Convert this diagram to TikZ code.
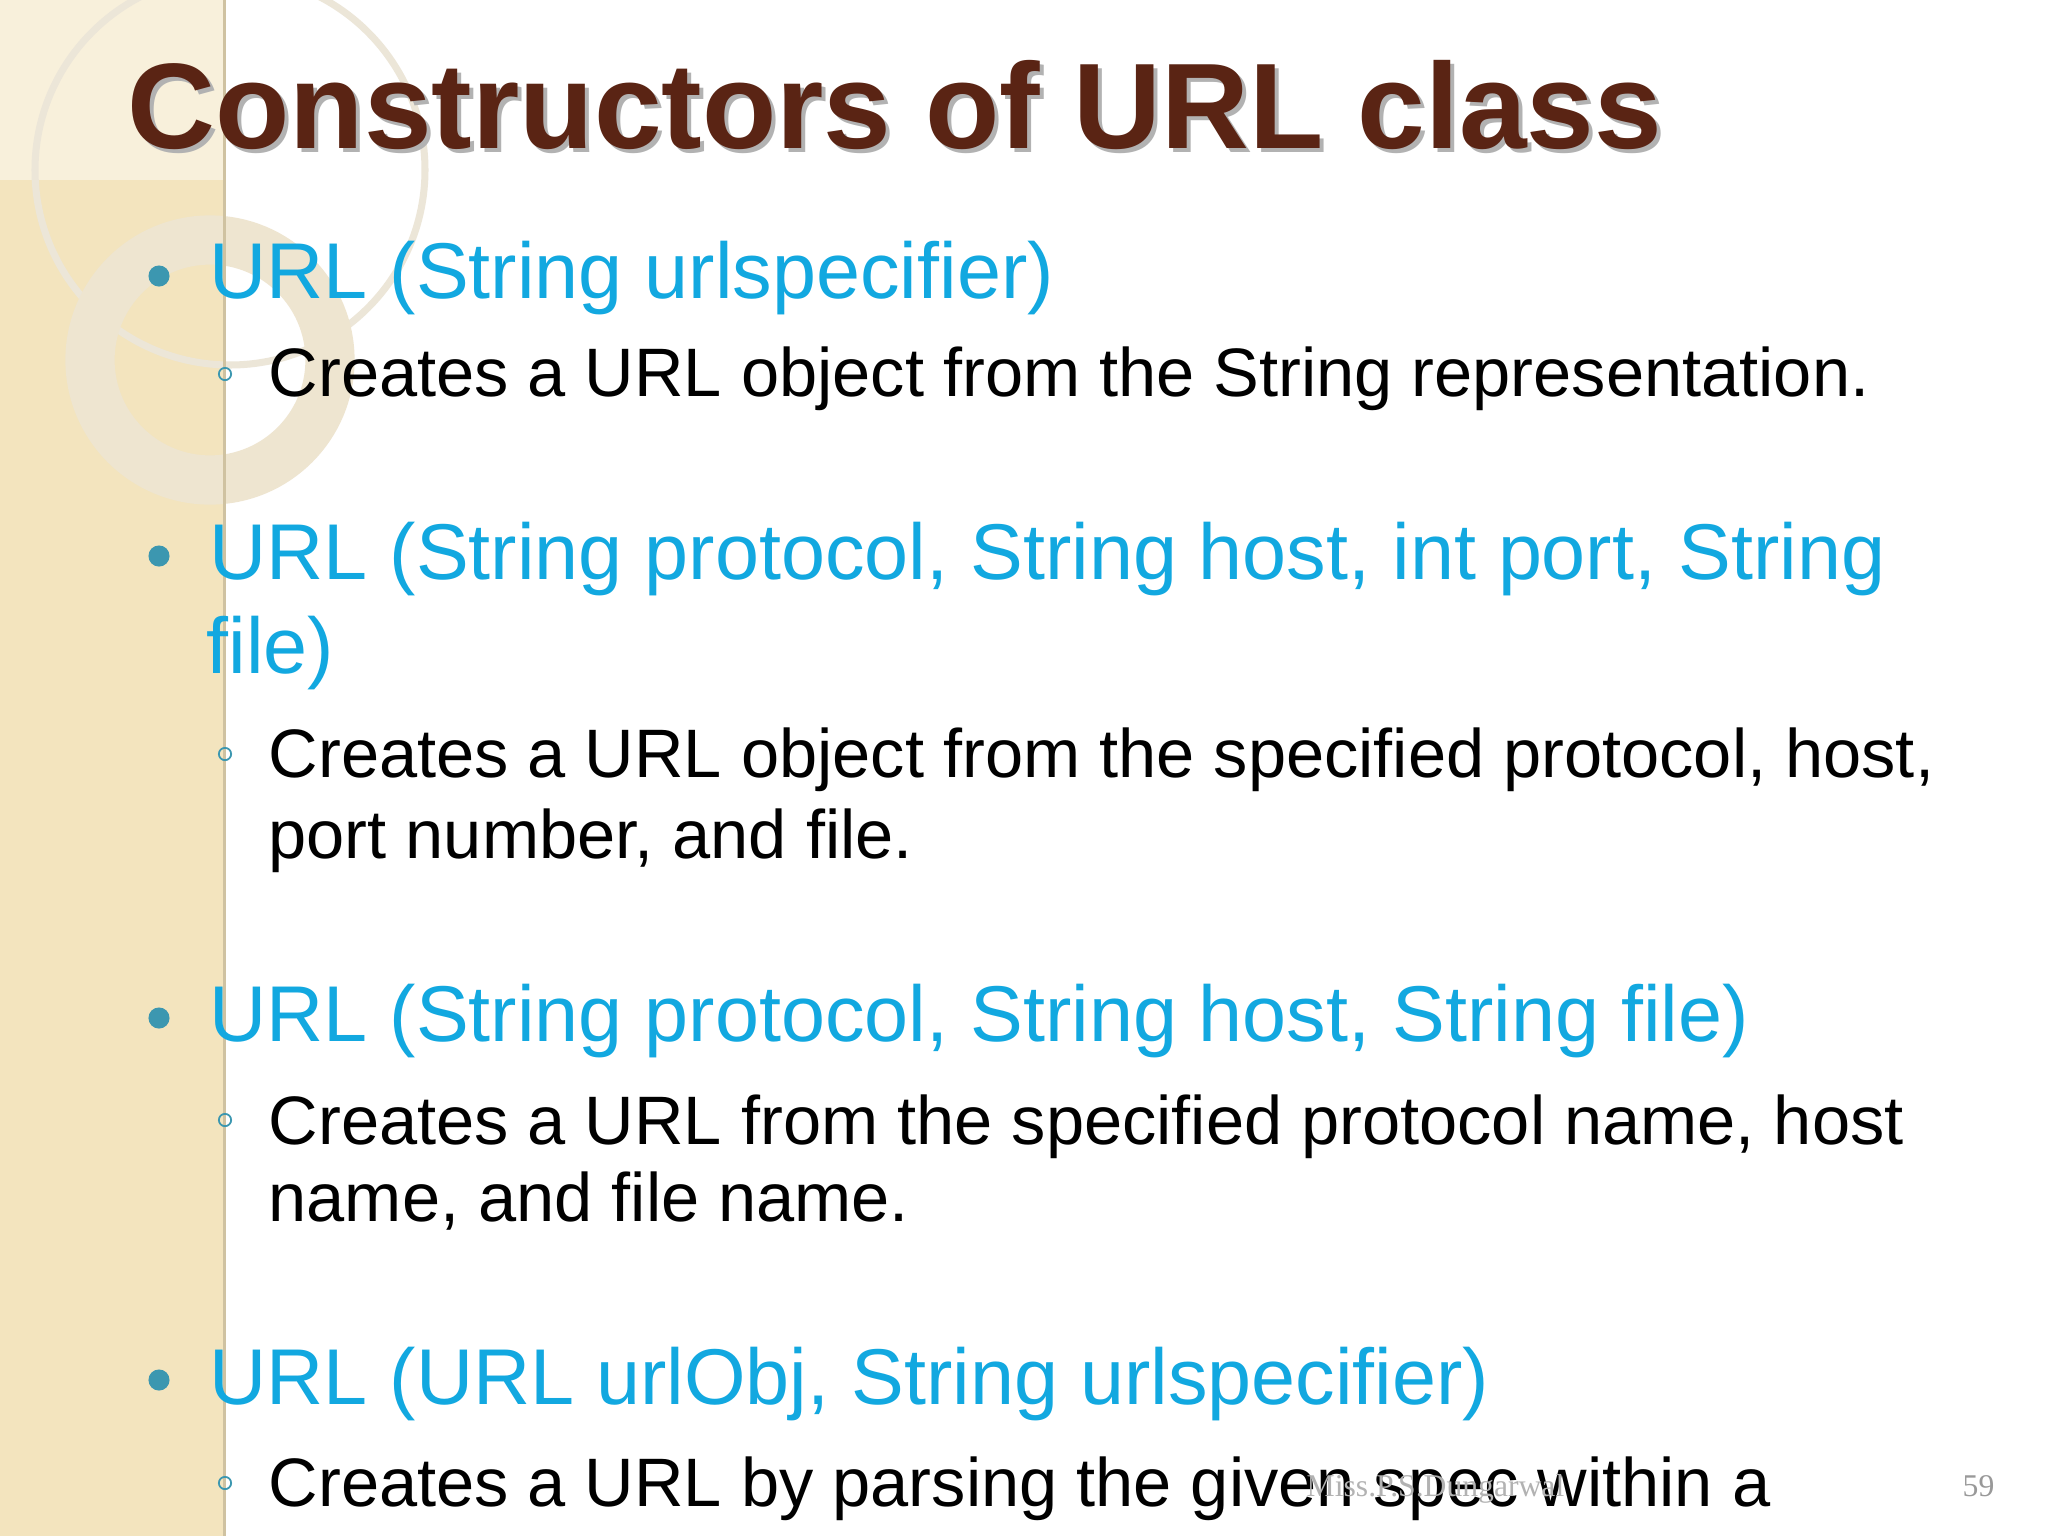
\documentclass[tikz,border=0pt]{standalone}
\usepackage{fontspec}
\setmainfont{Liberation Sans}
\newfontfamily\seriff{Liberation Serif}
\definecolor{band}{HTML}{F3E4BE}
\definecolor{ttl}{HTML}{5A2414}
\definecolor{blu}{HTML}{12A8E0}
\definecolor{dotc}{HTML}{3C97B0}
\definecolor{ring}{HTML}{ECE6D8}
\begin{document}
\begin{tikzpicture}[x=0.01cm,y=-0.01cm,
  tx/.style={anchor=base west,inner sep=0pt},
  lvl/.style={tx,font=\fontsize{22.5}{27}\selectfont,text=blu},
  sub/.style={tx,font=\fontsize{19.5}{24}\selectfont,text=black},
  dotb/.style={circle,fill=dotc,minimum size=6pt,inner sep=0pt},
  ringm/.style={circle,draw=dotc,line width=0.5pt,minimum size=3.5pt,inner sep=0pt}]
\useasboundingbox (0,0) rectangle (2048,1536);
\fill[white] (0,0) rectangle (2048,1536);
\fill[band] (0,0) rectangle (226,1536);
\fill[band!55!white] (0,0) rectangle (226,180);
\draw[ring,line width=2pt] (230,170) circle (195);
\draw[ring!70!band,line width=14pt] (210,360) circle (120);
\fill[band!85!black] (223,0) rectangle (226,1536);
\node[tx,font=\fontsize{34.6}{40}\bfseries\selectfont,text=black!30] (ts) at (131,152) {Constructors of URL class};
\node[tx,font=\fontsize{34.6}{40}\bfseries\selectfont,text=ttl] (t) at (127,148) {Constructors of URL class};
\node[dotb] (d1) at (159,276) {};
\node[lvl] (b1) at (209,298) {URL (String urlspecifier)};
\node[ringm] (r1) at (225,374) {};
\node[sub] (s1) at (268,396) {Creates a URL object from the String representation.};
\node[dotb] (d2) at (159,556) {};
\node[lvl] (b2) at (209,579) {URL (String protocol, String host, int port, String};
\node[lvl] (b2b) at (206,673) {file)};
\node[ringm] (r2) at (225,754) {};
\node[sub] (s2) at (268,777) {Creates a URL object from the specified protocol, host,};
\node[sub] (s2b) at (268,858) {port number, and file.};
\node[dotb] (d3) at (159,1018) {};
\node[lvl] (b3) at (209,1041) {URL (String protocol, String host, String file)};
\node[ringm] (r3) at (225,1120) {};
\node[sub] (s3) at (268,1144) {Creates a URL from the specified protocol name, host};
\node[sub] (s3b) at (268,1221) {name, and file name.};
\node[dotb] (d4) at (159,1380) {};
\node[lvl] (b4) at (209,1404) {URL (URL urlObj, String urlspecifier)};
\node[ringm] (r4) at (225,1483) {};
\node[sub] (s4) at (268,1506) {Creates a URL by parsing the given spec within a};
\node[tx,font=\seriff\fontsize{9}{10}\selectfont,text=black!30] (f) at (1306,1496) {Miss.P.S.Dungarwal};
\node[tx,font=\seriff\fontsize{9}{10}\selectfont,text=black!40] (pg) at (1962,1496) {59};
\end{tikzpicture}
\end{document}
